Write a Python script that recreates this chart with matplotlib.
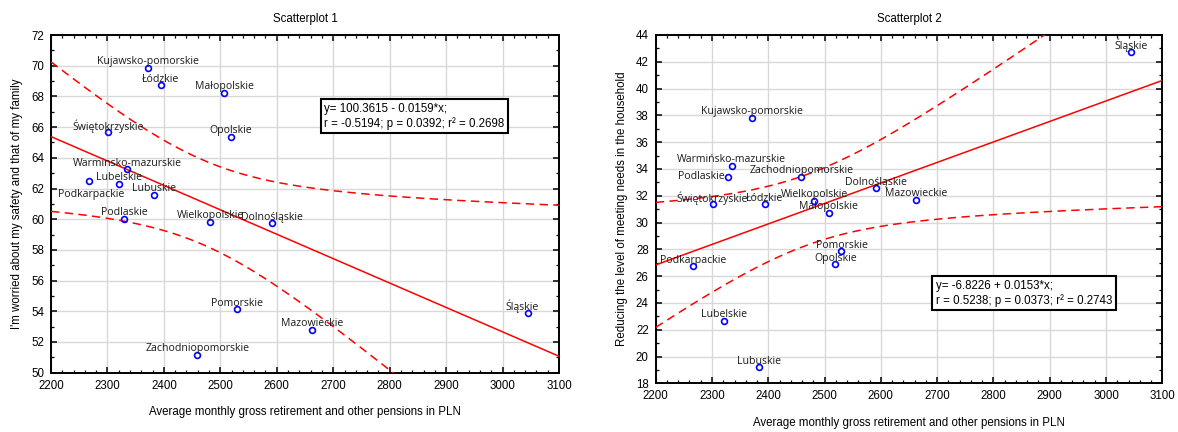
import numpy as np
import matplotlib
matplotlib.use("Agg")
import matplotlib.pyplot as plt
from matplotlib.ticker import MultipleLocator

# ---------------- data ----------------
regions = ["Dolnośląskie", "Kujawsko-pomorskie", "Lubelskie", "Lubuskie", "Łódzkie",
           "Małopolskie", "Mazowieckie", "Opolskie", "Podkarpackie", "Podlaskie",
           "Pomorskie", "Śląskie", "Świętokrzyskie", "Warmińsko-mazurskie",
           "Wielkopolskie", "Zachodniopomorskie"]
labels1 = ["Dolnośląskie", "Kujawsko-pomorskie", "Lubelskie", "Lubuskie", "Łódzkie",
           "Małopolskie", "Mazowieckie", "Opolskie", "Podkarpackie", "Podlaskie",
           "Pomorskie", "Śląskie", "Świętokrzyskie", "Warminsko-mazurskie",
           "Wielkopolskie", "Zachodniopomorskie"]
pension = [2592, 2371, 2321, 2383, 2394, 2507, 2662, 2519, 2267, 2329,
           2530, 3045, 2301, 2335, 2482, 2459]
worried = [59.74, 69.87, 62.32, 61.58, 68.74, 68.25, 52.80, 65.38, 62.52, 60.04,
           54.12, 53.92, 65.68, 63.26, 59.83, 51.17]
reducing = [32.56, 37.84, 22.68, 19.18, 31.37, 30.72, 31.71, 26.87, 26.75, 33.40,
            27.87, 42.76, 31.37, 34.25, 31.62, 33.40]

fit1 = (100.3615, -0.0159)
fit2 = (-6.8226, 0.0153)
stats1 = ["y= 100.3615 - 0.0159*x;", "r = -0.5194; p = 0.0392; r² = 0.2698"]
stats2 = ["y= -6.8226 + 0.0153*x;", "r = 0.5238; p = 0.0373; r² = 0.2743"]

title1, title2 = "Scatterplot 1", "Scatterplot 2"
xlabel = "Average monthly gross retirement and other pensions in PLN"
ylabel1 = "I'm worried about my safety and that of my family"
ylabel2 = "Reducing the level of meeting needs in the household"

# label placement modes (style)
mode1 = {"Podkarpackie": "below", "Śląskie": "aboveleft"}
mode2 = {"Podlaskie": "left"}

T_CRIT = 2.144787  # t(0.975, df=14)

AXFONT = ["Liberation Sans", "DejaVu Sans"]
LBLFONT = ["Open Sans", "DejaVu Sans"]
FS = 8.3

fig = plt.figure(figsize=(11.78, 4.32), dpi=100)
ax1 = fig.add_axes([51/1178, 1-372.7/432, 508/1178, 337.7/432])
ax2 = fig.add_axes([655.7/1178, 1-383.3/432, 506.6/1178, 348.3/432])


def draw(ax, x, y, labels, fit, stats, title, ylabel, ylim, modes, box_xy, ylab_x, xlab_y):
    x = np.asarray(x, float)
    y = np.asarray(y, float)
    a, b = fit
    n = len(x)
    resid = y - (a + b * x)
    s = np.sqrt(np.sum(resid**2) / (n - 2))
    xm = x.mean()
    sxx = np.sum((x - xm) ** 2)
    xs = np.linspace(2200, 3100, 300)
    yh = a + b * xs
    half = T_CRIT * s * np.sqrt(1.0 / n + (xs - xm) ** 2 / sxx)

    ax.set_xlim(2200, 3100)
    ax.set_ylim(*ylim)
    ax.xaxis.set_major_locator(MultipleLocator(100))
    ax.xaxis.set_minor_locator(MultipleLocator(20))
    ax.yaxis.set_major_locator(MultipleLocator(2))
    ax.yaxis.set_minor_locator(MultipleLocator(1))
    ax.grid(True, which="major", color="#d8d8d8", lw=1.0, zorder=0)
    ax.set_axisbelow(True)
    ax.tick_params(which="both", direction="in", top=True, right=True,
                   colors="black", labelsize=FS)
    ax.tick_params(which="major", length=4, width=1.1, pad=5)
    ax.tick_params(which="minor", length=2.5, width=0.9)
    for lab in ax.get_xticklabels() + ax.get_yticklabels():
        lab.set_family(AXFONT)
    for sp in ax.spines.values():
        sp.set_linewidth(1.4)
        sp.set_color("black")

    ax.plot(xs, yh, color="#ff0000", lw=1.1, zorder=3)
    ax.plot(xs, yh + half, color="#ff0000", lw=1.1, ls=(0, (5.5, 3.5)), zorder=3)
    ax.plot(xs, yh - half, color="#ff0000", lw=1.1, ls=(0, (5.5, 3.5)), zorder=3)
    ax.plot(x, y, ls="none", marker="o", ms=4.2, mfc="none", mec="#0000ff",
            mew=1.2, zorder=4)

    for xi, yi, name in zip(x, y, labels):
        m = modes.get(name, "above")
        if m == "below":
            off, ha, va = (2, -14), "center", "center"
        elif m == "left":
            off, ha, va = (-4, 0), "right", "center"
        elif m == "aboveleft":
            off, ha, va = (-6, 6), "center", "center"
        else:
            off, ha, va = (0, 6), "center", "center"
        ax.annotate(name, (xi, yi), xytext=off, textcoords="offset pixels",
                    ha=ha, va=va, fontsize=7.6, family=LBLFONT, color="#1a1a1a",
                    zorder=5)

    ax.text(box_xy[0], box_xy[1], "\n".join(stats), transform=ax.transAxes,
            ha="left", va="top", fontsize=FS, family=AXFONT, linespacing=1.25,
            zorder=6,
            bbox=dict(boxstyle="square,pad=0.3", fc="white", ec="black", lw=1.5))

    ax.text(0.5, 1 + 16 / ax.bbox.height, title, transform=ax.transAxes,
            ha="center", va="center", fontsize=FS, family=AXFONT)
    ax.set_xlabel(xlabel, fontsize=FS, family=AXFONT, va="center")
    ax.set_ylabel(ylabel, fontsize=FS, family=AXFONT, va="center")
    ax.xaxis.set_label_coords(0.5, xlab_y)
    ax.yaxis.set_label_coords(ylab_x, 0.5)


draw(ax1, pension, worried, labels1, fit1, stats1, title1, ylabel1, (50, 72), mode1,
     (0.538, 0.80), -34/508, -39/337.7)
draw(ax2, pension, reducing, regions, fit2, stats2, title2, ylabel2, (18, 44), mode2,
     (0.553, 0.298), -33.7/506.6, -40/348.3)

fig.savefig("out.png", dpi=100)
